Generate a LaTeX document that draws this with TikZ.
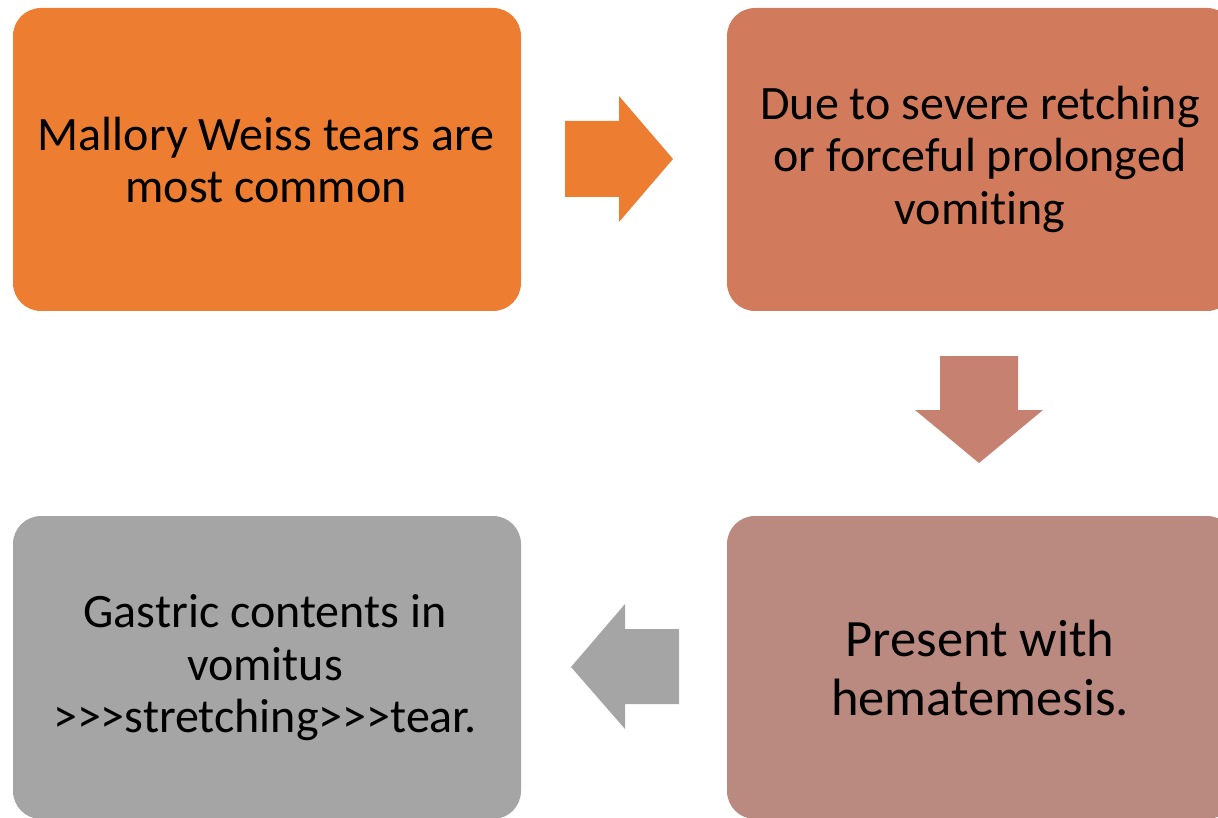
\documentclass[tikz,border=0pt]{standalone}
\usepackage{fontspec}
\setmainfont{Carlito}
\definecolor{cA}{HTML}{ED7D31}
\definecolor{cB}{HTML}{D27B5C}
\definecolor{cBarrow}{HTML}{C78170}
\definecolor{cC}{HTML}{BA8A80}
\definecolor{cD}{HTML}{A5A5A5}
\begin{document}
\begin{tikzpicture}[x=1pt,y=-1pt,
  box/.style={rounded corners=28pt,draw=none},
  txt/.style={align=center,font=\fontsize{48}{52.5}\selectfont,text=black},
  bigtxt/.style={align=center,font=\fontsize{52.5}{59}\selectfont,text=black}]
\useasboundingbox (0,0) rectangle (1218,818);
\begin{scope}
\clip (0,0) rectangle (1218,818);
\fill[cA,box] (13,8) rectangle (521,311);
\fill[cB,box] (727,8) rectangle (1235,311);
\fill[cC,box] (727,516) rectangle (1235,819);
\fill[cD,box] (13,516) rectangle (521,819);
\end{scope}
\node[txt] (t1) at (266,160) {Mallory Weiss tears are\\most common};
\node[txt] (t2) at (980,159) {Due to severe retching\\or forceful prolonged\\vomit\kern0pt ing};
\node[bigtxt] (t3) at (980,668) {Present with\\hematemesis.};
\node[txt] (t4) at (265,668) {Gastric contents in\\vomitus\\>{}>{}>stretching>{}>{}>tear.};
% arrows
\fill[cA] (565,121) -- (619,121) -- (619,96) -- (673,159) -- (619,222) -- (619,197) -- (565,197) -- cycle;
\fill[cBarrow] (940,356) -- (1018,356) -- (1018,410) -- (1043,410) -- (979,463) -- (915,410) -- (940,410) -- cycle;
\fill[cD] (679,629) -- (625,629) -- (625,604) -- (571,667) -- (625,729) -- (625,704) -- (679,704) -- cycle;
\end{tikzpicture}
\end{document}
